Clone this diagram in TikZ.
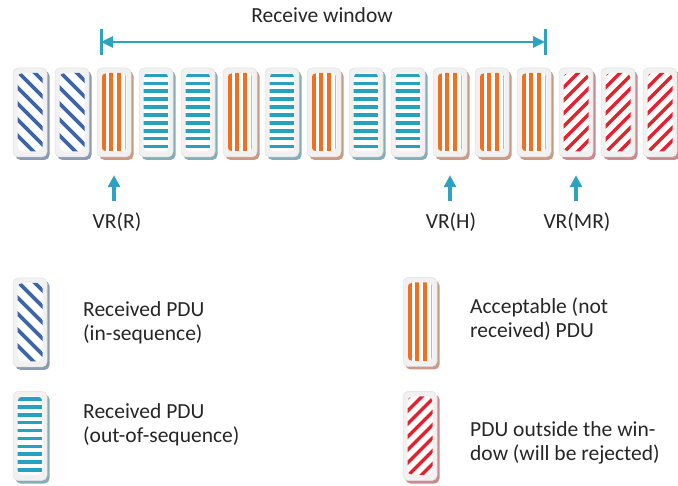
\documentclass[tikz,border=0pt]{standalone}
\usepackage{fontspec}
\setmainfont{Carlito}
\usetikzlibrary{arrows.meta,shadows}

\definecolor{pduBlue}{HTML}{3D65AA}
\definecolor{pduOrange}{HTML}{F26F21}
\definecolor{pduTeal}{HTML}{27A1C0}
\definecolor{pduRed}{HTML}{E3222E}
\definecolor{shBlue}{HTML}{8C9BB3}
\definecolor{shOrange}{HTML}{CB9A84}
\definecolor{shTeal}{HTML}{86AEB8}
\definecolor{shRed}{HTML}{CC8A90}
\definecolor{boxFill}{HTML}{F1F1F1}
\definecolor{boxEdge}{HTML}{E0E0E0}
\definecolor{arrowTeal}{HTML}{2DA3BF}
\definecolor{txt}{HTML}{262626}

% white inner panel of a PDU cell, clipped so that the stripes stay inside
\newcommand\pduinner[1]{%
  \path ([shift={(4.5pt,5.5pt)}]path picture bounding box.south west) coordinate (ia)
        ([shift={(-4.5pt,-5pt)}]path picture bounding box.north east) coordinate (ib);
  \fill[white] (ia) rectangle (ib);
  \begin{scope}
    \clip (ia) rectangle (ib);
    #1
  \end{scope}}

\tikzset{
  pdu/.style={rectangle, rounded corners=5pt, minimum width=34pt,
    minimum height=89pt, inner sep=0pt, fill=boxFill, draw=boxEdge,
    line width=0.5pt},
  pduInSeq/.style={pdu,
    drop shadow={shadow xshift=2.5pt, shadow yshift=-3pt, fill=shBlue, opacity=1},
    path picture={\pduinner{%
      \foreach \q in {-12,4,...,124}
        {\draw[pduBlue, line width=3.6pt] ([shift={(-4pt,\q pt)}]ia) -- ++(40pt,-40pt);}}}},
  pduReject/.style={pdu,
    drop shadow={shadow xshift=2.5pt, shadow yshift=-3pt, fill=shRed, opacity=1},
    path picture={\pduinner{%
      \foreach \q in {-44,-31,...,95}
        {\draw[pduRed, line width=3.4pt] ([shift={(-4pt,\q pt)}]ia) -- ++(40pt,40pt);}}}},
  pduAccept/.style={pdu,
    drop shadow={shadow xshift=2.5pt, shadow yshift=-3pt, fill=shOrange, opacity=1},
    path picture={\pduinner{%
      \foreach \q in {2.2,9,17.4}
        {\draw[pduOrange, line width=4pt] ([xshift=\q pt]ia) -- ++(0pt,90pt);}
      \draw[pduOrange!60, line width=1.2pt] ([xshift=24.3pt]ia) -- ++(0pt,90pt);}}},
  pduOutSeq/.style={pdu,
    drop shadow={shadow xshift=2.5pt, shadow yshift=-3pt, fill=shTeal, opacity=1},
    path picture={\pduinner{%
      \foreach \q in {0,...,9}
        {\draw[pduTeal, line width=3.6pt] ([yshift={-2.5pt-7.9pt*\q}]ib) -- ++(-30pt,0pt);}}}},
  lbl/.style={inner sep=0pt, text=txt, font=\fontsize{21.5}{24}\selectfont},
  winline/.style={draw=arrowTeal, line width=2.6pt,
    {Triangle[length=12pt,width=11pt]}-{Triangle[length=12pt,width=11pt]}},
  winbar/.style={draw=arrowTeal, line width=3pt},
  ptr/.style={draw=arrowTeal, line width=3.2pt, -{Triangle[length=12pt,width=12pt]}},
}

\begin{document}
\begin{tikzpicture}[x=1pt, y=-1pt]
  \useasboundingbox (0,0) rectangle (678,486);

  % sequence of PDU cells in the receive buffer
  \foreach \t [count=\i] in {pduInSeq,pduInSeq,pduAccept,pduOutSeq,pduOutSeq,
      pduAccept,pduOutSeq,pduAccept,pduOutSeq,pduOutSeq,pduAccept,pduAccept,
      pduAccept,pduReject,pduReject,pduReject}
    \node[\t] (b\i) at ({30+42*(\i-1)},112.5) {};

  % receive window span
  \node[lbl, anchor=base] (win) at (322,23) {Receive window};
  \coordinate (wL) at (101,42);
  \coordinate (wR) at (545,42);
  \draw[winbar] ([yshift=13pt]wL) -- ([yshift=-13pt]wL);
  \draw[winbar] ([yshift=13pt]wR) -- ([yshift=-13pt]wR);
  \draw[winline] (wL) -- (wR);

  % state variables
  \node[lbl, anchor=base] (vrR) at (117,229) {VR(R)};
  \node[lbl, anchor=base] (vrH) at (451,229) {VR(H)};
  \node[lbl, anchor=base] (vrMR) at (577,229) {VR(MR)};
  \draw[ptr, shorten <=12pt, shorten >=18pt] (b3.south |- vrR.north) -- (b3.south);
  \draw[ptr, shorten <=12pt, shorten >=18pt] (b11.south |- vrH.north) -- (b11.south);
  \draw[ptr, shorten <=12pt, shorten >=18pt] (b14.south |- vrMR.north) -- (b14.south);

  % legend
  \node[pduInSeq] (k1) at (30,322.5) {};
  \node[pduOutSeq] (k2) at (30,436) {};
  \node[pduAccept] (k3) at (420,322) {};
  \node[pduReject] (k4) at (420,436) {};

  \node[lbl, anchor=base west] (t1) at (83,317)
    {\begin{tabular}[t]{@{}l@{}}Received PDU\\(in-sequence)\end{tabular}};
  \node[lbl, anchor=base west] (t2) at (83,419)
    {\begin{tabular}[t]{@{}l@{}}Received PDU\\(out-of-sequence)\end{tabular}};
  \node[lbl, anchor=base west] (t3) at (470,314)
    {\begin{tabular}[t]{@{}l@{}}Acceptable (not\\received) PDU\end{tabular}};
  \node[lbl, anchor=base west] (t4) at (470,437)
    {\begin{tabular}[t]{@{}l@{}}PDU outside the win-\\dow (will be rejected)\end{tabular}};
\end{tikzpicture}
\end{document}
